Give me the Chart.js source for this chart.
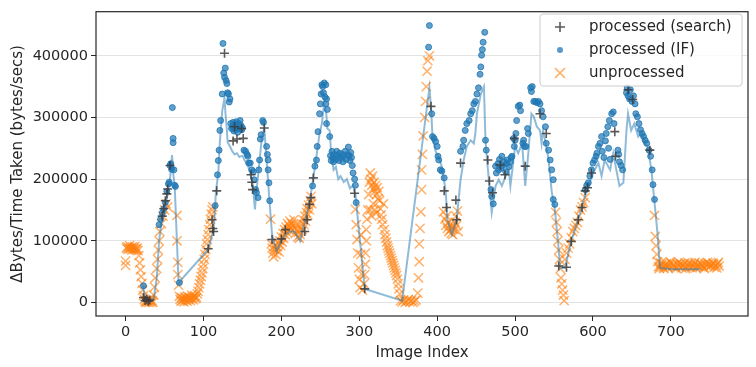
<!DOCTYPE html>
<html><head><meta charset="utf-8">
<script src="https://cdn.jsdelivr.net/npm/chart.js@4.4.1/dist/chart.umd.min.js"></script>
<style>html,body{margin:0;padding:0;background:#fff;}</style>
</head><body>
<canvas id="c" width="756" height="367"></canvas>
<script>
// ---- data (image index, bytes/sec) ----
const xTicks = [0, 100, 200, 300, 400, 500, 600, 700];
const yTicks = [0, 100000, 200000, 300000, 400000];
const seriesNames = ['processed (search)', 'processed (IF)', 'unprocessed'];

const searchPts = [[23,8000],[25,3000],[27,5000],[29,2000],[31,4000],[47,140000],[49,152000],[51,165000],[53,176000],[54,184000],[57,222000],[106,87000],[111,134000],[112,120000],[113,115000],[117,181000],[127,404000],[138,262000],[140,285000],[143,265000],[149,282000],[151,266000],[161,207000],[162,195000],[163,183000],[178,283000],[188,102000],[200,103000],[205,118000],[230,115000],[233,134000],[236,159000],[238,170000],[241,202000],[294,177000],[307,22000],[392,318000],[409,181000],[412,154000],[424,166000],[425,134000],[430,226000],[465,231000],[467,197000],[471,178000],[481,223000],[487,207000],[499,266000],[513,221000],[532,306000],[540,274000],[556,59000],[566,57000],[572,99000],[581,134000],[586,154000],[590,181000],[593,186000],[598,210000],[628,277000],[629,237000],[645,345000],[651,329000],[673,247000]];

const ifPts = [[23,27000],[43,126000],[45,135000],[47,145000],[49,152000],[51,162000],[53,180000],[55,192000],[56,195000],[57,222000],[58,225000],[59,216000],[60,316000],[61,266000],[61,259000],[62,215000],[63,190000],[64,188000],[69,32000],
[115,157000],[118,207000],[119,230000],[120,247000],[121,279000],[122,295000],[124,338000],[125,420000],[126,372000],[127,365000],[128,380000],[129,360000],[130,355000],[131,340000],[132,338000],[133,325000],[134,330000],[135,290000],[136,282000],[137,285000],[138,292000],[139,278000],[140,288000],[141,280000],[142,293000],[143,285000],[144,276000],[145,290000],[146,282000],[147,295000],[148,287000],[149,280000],[150,283000],[152,247000],[154,245000],[156,240000],[157,237000],[158,226000],[160,226000],[162,215000],[164,212000],[165,199000],[167,183000],[168,178000],[170,170000],[171,215000],[172,231000],[173,265000],[174,272000],[176,295000],[177,292000],[181,253000],[182,240000],[183,231000],[183,215000],[184,194000],[185,165000],
[240,189000],[243,221000],[245,231000],[246,253000],[247,277000],[249,306000],[250,322000],[251,338000],[252,353000],[253,350000],[255,356000],[257,353000],[254,340000],[256,333000],[258,330000],[257,322000],[259,313000],[258,290000],[262,269000],[263,238000],[264,230000],[265,245000],[266,235000],[267,228000],[268,240000],[270,232000],[271,245000],[272,238000],[274,230000],[275,242000],[276,235000],[278,240000],[279,228000],[280,237000],[282,245000],[283,232000],[285,240000],[286,252000],[287,238000],[288,230000],[289,243000],[290,235000],[291,222000],[292,210000],[294,200000],[295,190000],[296,162000],
[389,414000],[390,449000],[393,306000],[394,269000],[396,266000],[398,261000],[400,253000],[401,237000],[402,231000],[404,215000],[406,213000],[409,202000],[430,245000],[433,253000],[434,263000],[436,279000],[438,290000],[441,295000],[443,306000],[445,311000],[447,322000],[449,326000],[451,338000],[453,348000],[455,370000],[456,382000],[457,401000],[458,410000],[459,422000],[461,438000],[462,263000],[463,247000],[469,183000],[470,172000],[472,160000],[475,221000],[476,210000],[478,225000],[479,215000],[480,232000],[482,218000],[483,237000],[484,222000],[486,228000],[488,212000],[489,225000],[490,231000],[492,220000],[494,228000],[495,235000],[496,237000],[498,266000],[499,253000],[500,263000],[501,274000],[502,295000],[504,318000],[506,320000],[507,311000],[510,258000],[511,263000],[512,253000],[514,253000],[516,282000],[517,274000],[520,348000],[521,342000],[522,350000],[524,326000],[526,326000],[528,324000],[530,326000],[532,322000],[534,311000],[536,301000],[539,285000],[540,258000],[543,247000],[545,231000],[547,215000],[549,199000],[549,167000],[551,159000],
[590,183000],[592,190000],[594,194000],[596,205000],[598,215000],[600,226000],[602,231000],[604,237000],[605,242000],[607,253000],[609,258000],[611,269000],[612,245000],[614,235000],[616,262000],[617,274000],[619,285000],[620,250000],[621,295000],[622,232000],[624,306000],[626,309000],[627,290000],[632,247000],[633,240000],[634,228000],[636,222000],[638,215000],[643,340000],[644,348000],[645,335000],[647,330000],[648,345000],[650,326000],[652,335000],[654,322000],[655,306000],[657,301000],[659,290000],[661,280000],[663,274000],[665,269000],[667,263000],[669,258000],[672,247000],[674,237000],[676,215000],[677,191000],[679,167000]];

const unprocPts = [[0,60000],[0,67000],[1,88000],[2,90000],[3,86000],[4,88000],[5,92000],[6,87000],[7,89000],[8,85000],[9,90000],[10,88000],[11,86000],[12,91000],[13,87000],[14,85000],[15,88000],[16,84000],[17,76000],[18,64000],[19,53000],[20,42000],[21,31000],[22,20000],[23,11000],[24,5000],[25,2000],[26,0],[27,3000],[28,1000],[29,4000],[30,0],[31,2000],[32,5000],[33,1000],[34,3000],[35,0],[36,12000],[37,25000],[38,40000],[40,55000],[41,70000],[42,85000],[43,100000],[44,115000],[46,128000],[48,140000],[50,150000],[52,160000],[54,155000],
[66,141000],[66,100000],[67,65000],[67,45000],[68,28000],[69,10000],[70,5000],[71,2000],[72,8000],[73,3000],[74,6000],[75,1000],[76,9000],[77,4000],[78,7000],[79,2000],[80,10000],[81,5000],[82,8000],[83,3000],[84,6000],[85,12000],[86,7000],[87,4000],[88,9000],[89,11000],[90,6000],[91,8000],[92,14000],[93,18000],[94,24000],[95,30000],[96,36000],[97,42000],[98,48000],[99,55000],[100,62000],[101,70000],[102,78000],[103,86000],[104,95000],[105,102000],[106,110000],[107,118000],[108,126000],[109,135000],[110,143000],[111,150000],[112,155000],
[186,135000],[187,95000],[188,88000],[189,80000],[190,74000],[191,86000],[192,92000],[193,78000],[194,84000],[195,90000],[196,96000],[197,82000],[198,100000],[199,92000],[200,106000],[201,98000],[202,112000],[203,104000],[204,118000],[205,110000],[206,122000],[207,114000],[208,128000],[209,118000],[210,124000],[211,132000],[212,120000],[213,128000],[214,116000],[215,126000],[216,134000],[217,120000],[218,112000],[219,126000],[220,118000],[221,106000],[222,114000],[223,104000],[224,110000],[225,120000],[226,128000],[227,118000],[228,134000],[229,126000],[230,140000],[231,132000],[232,146000],[233,152000],[234,142000],[235,158000],[236,150000],[237,165000],[238,172000],[239,160000],
[295,151000],[296,126000],[297,102000],[298,80000],[299,56000],[300,38000],[301,24000],[302,110000],[302,78000],[303,46000],[304,20000],[306,30000],[307,45000],[308,62000],[308,80000],[309,100000],[309,118000],[310,135000],[311,150000],[312,175000],[313,195000],[314,210000],[315,200000],[316,190000],[317,205000],[318,185000],[319,195000],[320,180000],[321,190000],[322,175000],[323,186000],[324,168000],[325,180000],[326,165000],[327,152000],[328,142000],[329,135000],[314,150000],[316,140000],[318,160000],[320,150000],[322,145000],[330,126000],[331,160000],[332,118000],[333,110000],[334,104000],[335,98000],[336,92000],[337,88000],[338,84000],[339,80000],[340,76000],[341,72000],[342,68000],[343,64000],[344,60000],[345,56000],[346,52000],[347,48000],[348,44000],[349,38000],[350,30000],[351,22000],[352,14000],[353,3000],[355,1000],[357,4000],[359,0],[361,2000],[363,5000],[365,1000],[367,3000],[369,0],[371,2000],[373,4000],[375,15000],[376,40000],[377,66000],[377,95000],[378,120000],[379,147000],[380,183000],[380,215000],[381,240000],[382,270000],[384,300000],[385,326000],[386,350000],[387,375000],[388,392000],[390,400000],
[408,147000],[410,135000],[411,125000],[412,140000],[413,120000],[414,130000],[415,115000],[416,125000],[417,118000],[418,112000],[419,120000],[420,110000],[421,125000],[422,118000],[423,130000],[424,140000],[425,125000],[426,148000],[427,115000],
[552,146000],[553,130000],[554,115000],[555,100000],[556,85000],[557,70000],[558,55000],[559,40000],[560,30000],[561,20000],[562,12000],[563,3000],[564,70000],[566,80000],[568,88000],[570,95000],[572,105000],[574,115000],[576,120000],[578,125000],[580,130000],[582,140000],[584,150000],[586,155000],[588,162000],[590,170000],
[679,141000],[680,107000],[681,92000],[682,78000],[683,66000],[684,58000],[685,55000],[686,58000],[687,64000],[688,62000],[690,57000],[691,55000],[692,61000],[694,63000],[695,59000],[696,56000],[698,60000],[699,66000],[700,64000],[702,58000],[703,62000],[704,61000],[706,57000],[707,55000],[708,63000],[710,59000],[711,65000],[712,62000],[714,56000],[715,61000],[716,60000],[718,64000],[719,55000],[720,58000],[722,61000],[723,64000],[724,57000],[726,63000],[727,56000],[728,59000],[730,62000],[731,65000],[732,56000],[734,60000],[735,58000],[736,64000],[738,58000],[739,63000],[740,61000],[742,57000],[743,55000],[744,63000],[746,59000],[747,65000],[748,62000],[750,58000],[751,60000],[752,61000],[754,64000],[755,62000],[756,57000],[758,60000],[759,56000],[760,63000],[761,65000],[762,59000]];

const linePts = [[22,27000],[25,8000],[28,3000],[33,2000],[36,5000],[40,40000],[43,100000],[46,130000],[50,155000],[54,175000],[57,200000],[59.6,239000],[61,210000],[63,190000],[68,32000],[106,86000],[110,105000],[113,118000],[116,180000],[119,210000],[121,260000],[124,310000],[127,333000],[128,310000],[130,280000],[131,260000],[134,253000],[137,245000],[140,240000],[143,242000],[146,236000],[150,238000],[153,230000],[156,226000],[160,210000],[163,195000],[166,151000],[168,180000],[172,230000],[175,269000],[178,283000],[181,230000],[185,160000],[188,110000],[194,83000],[200,100000],[205,110000],[211,115000],[217,115000],[224,99000],[230,130000],[236,162000],[240,194000],[245,237000],[249,274000],[252,290000],[254.6,321000],[257.6,306000],[259,282000],[262,279000],[264,240000],[267,215000],[270,220000],[273,200000],[276,205000],[280,195000],[284,200000],[288,185000],[292,190000],[295,175000],[307,22000],[355,3000],[390,348000],[392,318000],[394,269000],[398,245000],[402,235000],[406,220000],[411,180000],[413,135000],[419,110000],[425,135000],[430,199000],[434,231000],[438,253000],[443,263000],[447,258000],[449,274000],[451,306000],[456,338000],[460,350000],[461,306000],[462,263000],[464,231000],[467,190000],[470,146000],[475,189000],[479,199000],[483,189000],[488,205000],[492,215000],[494,189000],[496,210000],[500,253000],[504,242000],[509,258000],[513,189000],[517,242000],[521,306000],[524,301000],[528,285000],[532,279000],[534,258000],[536,279000],[540,253000],[543,231000],[547,180000],[551,151000],[555,100000],[558,56000],[564,56000],[572,99000],[581,135000],[590,173000],[600,210000],[607,226000],[611,205000],[615,231000],[622,215000],[626,242000],[630,215000],[634,189000],[639,194000],[643,279000],[645,306000],[649,279000],[653,290000],[658,269000],[662,274000],[666,258000],[670,253000],[675,215000],[679,162000],[683,110000],[686,56000],[700,54000],[720,54000],[738,54000]];

// ---- helpers ----
const xy = pts => pts.map(p => ({x: p[0], y: p[1]}));
const FONT = 'DejaVu Sans';
const TXT = '#262626';
const BLUE = '#1f77b4';

const framePlugin = {
  id: 'frame',
  afterDatasetsDraw(chart) {
    const {ctx, chartArea: a} = chart;
    ctx.save();
    ctx.strokeStyle = TXT;
    ctx.lineWidth = 1.2;
    ctx.strokeRect(a.left, a.top, a.right - a.left, a.bottom - a.top);
    ctx.restore();
  }
};

const legendPlugin = {
  id: 'mplLegend',
  afterDraw(chart) {
    const ctx = chart.ctx;
    ctx.save();
    const bx = 540, by = 14, bw = 202, bh = 72, r = 3;
    ctx.beginPath();
    ctx.moveTo(bx + r, by);
    ctx.arcTo(bx + bw, by, bx + bw, by + bh, r);
    ctx.arcTo(bx + bw, by + bh, bx, by + bh, r);
    ctx.arcTo(bx, by + bh, bx, by, r);
    ctx.arcTo(bx, by, bx + bw, by, r);
    ctx.closePath();
    ctx.fillStyle = 'rgba(255,255,255,0.8)';
    ctx.fill();
    ctx.strokeStyle = '#cccccc';
    ctx.lineWidth = 1;
    ctx.stroke();
    const mx = 560, rows = [27, 50, 73];
    // plus
    ctx.strokeStyle = 'rgba(60,60,60,0.85)'; ctx.lineWidth = 1.6;
    ctx.beginPath();
    ctx.moveTo(mx - 5, rows[0]); ctx.lineTo(mx + 5, rows[0]);
    ctx.moveTo(mx, rows[0] - 5); ctx.lineTo(mx, rows[0] + 5);
    ctx.stroke();
    // dot
    ctx.fillStyle = 'rgba(31,119,180,0.75)';
    ctx.beginPath(); ctx.arc(mx, rows[1], 3, 0, Math.PI * 2); ctx.fill();
    // x
    ctx.strokeStyle = 'rgba(255,127,14,0.65)'; ctx.lineWidth = 1.6;
    ctx.beginPath();
    ctx.moveTo(mx - 5, rows[2] - 5); ctx.lineTo(mx + 5, rows[2] + 5);
    ctx.moveTo(mx - 5, rows[2] + 5); ctx.lineTo(mx + 5, rows[2] - 5);
    ctx.stroke();
    ctx.fillStyle = TXT;
    ctx.font = '15px "' + FONT + '"';
    ctx.textBaseline = 'middle';
    ctx.textAlign = 'left';
    seriesNames.forEach((n, i) => ctx.fillText(n, 589, rows[i]));
    ctx.restore();
  }
};

new Chart(document.getElementById('c'), {
  type: 'scatter',
  data: {
    datasets: [
      { label: seriesNames[0], data: xy(searchPts), pointStyle: 'cross', pointRadius: 4.5,
        borderColor: 'rgba(60,60,60,0.85)', backgroundColor: 'rgba(60,60,60,0.85)', pointBorderWidth: 1.6, order: 1 },
      { label: 'trend', data: xy(linePts), showLine: true, pointRadius: 0,
        borderColor: 'rgba(31,119,180,0.5)', borderWidth: 2, fill: false, tension: 0, order: 2 },
      { label: seriesNames[1], data: xy(ifPts), pointStyle: 'circle', pointRadius: 3,
        backgroundColor: 'rgba(31,119,180,0.7)', borderColor: 'rgba(31,119,180,0.8)', pointBorderWidth: 1, order: 3 },
      { label: seriesNames[2], data: xy(unprocPts), pointStyle: 'crossRot', pointRadius: 6.5,
        borderColor: 'rgba(255,127,14,0.6)', backgroundColor: 'rgba(255,127,14,0.6)', pointBorderWidth: 1.5, order: 4 }
    ]
  },
  options: {
    responsive: false, animation: false, devicePixelRatio: 1, events: [],
    layout: { padding: { left: 0, right: 7, top: 6, bottom: 0 } },
    plugins: { legend: { display: false }, tooltip: { enabled: false } },
    scales: {
      x: {
        type: 'linear', min: -38, max: 799,
        afterBuildTicks: s => { s.ticks = xTicks.map(v => ({ value: v })); },
        afterFit: s => { s.height = 51; },
        grid: { display: true, drawOnChartArea: false, drawTicks: true, tickLength: 5, tickColor: TXT, tickWidth: 1 },
        border: { display: false },
        ticks: { font: { family: FONT, size: 14.5 }, color: TXT, padding: 3, maxRotation: 0, autoSkip: false },
        title: { display: true, text: 'Image Index', font: { family: FONT, size: 15 }, color: TXT, padding: { top: 0, bottom: 5 } }
      },
      y: {
        type: 'linear', min: -22000, max: 471500,
        afterBuildTicks: s => { s.ticks = yTicks.map(v => ({ value: v })); },
        afterFit: s => { s.width = 96; },
        grid: { color: '#e3e3e3', lineWidth: 1, drawTicks: true, tickLength: 5, tickColor: TXT, tickWidth: 1 },
        border: { display: false },
        ticks: { font: { family: FONT, size: 14.5 }, color: TXT, padding: 3, callback: v => String(v) },
        title: { display: true, text: 'ΔBytes/Time Taken (bytes/secs)', font: { family: FONT, size: 15 }, color: TXT, padding: { top: 9, bottom: 0 } }
      }
    }
  },
  plugins: [framePlugin, legendPlugin]
});
</script>
</body></html>
